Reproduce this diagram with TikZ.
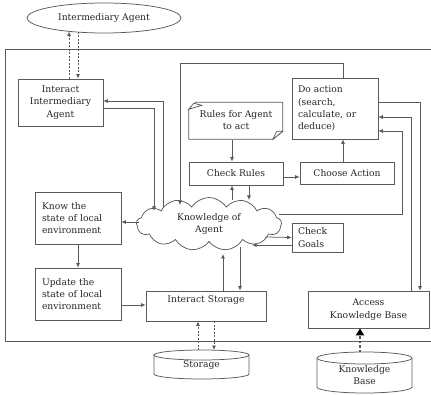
\documentclass[tikz,border=0pt]{standalone}
\usepackage{fontspec}
\setmainfont{DejaVu Serif}
\usetikzlibrary{shapes.geometric,shapes.symbols,arrows.meta}

\definecolor{linec}{HTML}{5A5A5A}
\definecolor{textc}{HTML}{262626}
\newcommand\diagfont{\fontsize{9.2}{12.3}\selectfont}
% centred stack of lines
\newcommand\ctrlines[1]{\begin{tabular}{@{}c@{}}#1\end{tabular}}

\begin{document}
\begin{tikzpicture}[x=1pt,y=-1pt,
  every node/.style={text=textc, font=\diagfont, inner sep=0pt},
  box/.style={draw=linec, line width=0.75pt, rectangle},
  lbox/.style={box, align=left},
  ell/.style={draw=linec, line width=0.75pt, ellipse},
  outline/.style={draw=linec, line width=0.75pt},
  arr/.style={draw=linec, line width=0.75pt, -{Latex[length=4.5pt,width=4pt]}},
  darr/.style={arr, dash pattern=on 2pt off 1.5pt},
  kbarr/.style={draw=linec, line width=2.2pt, dash pattern=on 2.5pt off 2pt,
    -{Triangle[length=7pt,width=8pt,color=black]}}
]
\useasboundingbox (0,0) rectangle (431,395);

% system boundary
\draw[outline] (5,49) rectangle (445,341);

% external agent
\node[ell, minimum width=154, minimum height=30] (IA) at (104,18) {Intermediary Agent};

% process boxes
\node[box, minimum width=85, minimum height=47] (IIA) at (60.5,102.5)
  {\ctrlines{Interact\\Intermediary\\Agent}};
\node[lbox, minimum width=86, minimum height=61, text width=74] (doact) at (335,108.5)
  {Do action\\(search,\\calculate, or\\deduce)};
\node[minimum width=94, minimum height=37] (rules) at (236,121)
  {\ctrlines{Rules for Agent\\to act}};
\node[box, minimum width=94, minimum height=23] (checkr) at (236,173.5) {Check Rules};
\node[box, minimum width=94, minimum height=22] (choose) at (347,173.5) {Choose Action};
\node[lbox, minimum width=86, minimum height=52, text width=72] (know) at (78,218)
  {Know the\\state of local\\environment};
\node[lbox, minimum width=86, minimum height=52, text width=72] (update) at (78,294)
  {Update the\\state of local\\environment};
\node[box, minimum width=120, text height=8pt, text depth=16pt, inner ysep=3pt] (is)
  at (206,306) {Interact Storage};
\node[lbox, minimum width=51, minimum height=29, text width=39] (goals) at (317.5,237.5)
  {Check\\Goals};
\node[box, minimum width=121, minimum height=37] (akb) at (368.5,309.5)
  {\ctrlines{Access\\Knowledge Base}};

% knowledge cloud
\node[cloud, draw=linec, line width=0.75pt, cloud puffs=13, cloud puff arc=115,
  cloud ignores aspect, minimum width=145, minimum height=53]
  (cloud) at (209,224) {\ctrlines{Knowledge of\\Agent}};

% note shape with curled corners
\begin{scope}[shift={(rules.north west)}]
  \draw[outline] (0,7) -- (0,37) -- (84,37) -- (94,29) -- (94,0) -- (7,0) -- cycle;
  \draw[outline, fill=white] (0,7) -- (5,1) -- (13,3) -- cycle;
  \draw[outline, fill=white] (84,37) -- (88,29) -- (94,29) -- cycle;
\end{scope}

% storage cylinders
\node[minimum width=95, minimum height=19] (stor) at (201.5,365) {Storage};
\draw[outline] (154,355) -- (154,374) arc[start angle=180, end angle=360,
  x radius=47.5pt, y radius=5pt] -- (249,355);
\draw[outline] (201.5,355) ellipse [x radius=47.5pt, y radius=5pt];
\node[minimum width=95, minimum height=29] (kb) at (364.5,376)
  {\ctrlines{Knowledge\\Base}};
\draw[outline] (317,358) -- (317,387) arc[start angle=180, end angle=360,
  x radius=47.5pt, y radius=6pt] -- (412,358);
\draw[outline] (364.5,358) ellipse [x radius=47.5pt, y radius=6pt];

% links to the intermediary agent
\draw[darr] ([xshift=8.5]IIA.north) -- (69,31.5);
\draw[darr] (78,32) -- ([xshift=17.5]IIA.north);

% cloud and intermediary agent
\draw[arr] (163,207) |- ([yshift=1.5]IIA.east);
\draw[arr] ([yshift=-5.5]IIA.east) -| (154,211);

% action loop
\draw[arr] ([xshift=8]doact.north) |- (180,63) -- (180,205);
\draw[arr] ([xshift=-4]rules.south) -- ([xshift=-4]checkr.north);
\draw[arr] ([yshift=-3.5]checkr.east) -- ([yshift=-3.5]checkr.east -| choose.west);
\draw[arr] ([xshift=-4]choose.north) -- ([xshift=-4]choose.north |- doact.south);
\draw[arr] (232,200) -- ([xshift=-4]checkr.south);
\draw[arr] ([xshift=13]checkr.south) -- (249,200);

% knowledge base links
\draw[arr] ([yshift=6.5]doact.east) -| ([xshift=51.5]akb.north);
\draw[arr] ([xshift=42.5]akb.north) |- ([yshift=-8.5]doact.east);
\draw[arr] (279,214) -| (402,131) -- ([yshift=-22.5]doact.east);

% environment
\draw[arr] (139,222) -- ([yshift=-4]know.east);
\draw[arr] (know.south) -- (update.north);
\draw[arr] ([yshift=-11]update.east) -- ([yshift=-11]update.east -| is.west);

% storage
\draw[arr] ([xshift=17]is.north) -- (223,254);
\draw[arr] (240,247) -- ([xshift=34]is.north);
\draw[darr] (198,350) -- ([xshift=-8]is.south);
\draw[darr] ([xshift=8]is.south) -- (214,350);

% goals
\draw[arr] (265,237) -- (goals.west);
\draw[arr] ([yshift=-7.5]goals.west) -- (252,245);

% knowledge base feed
\draw[kbarr] (360,352) -- ([xshift=-8.5]akb.south);
\end{tikzpicture}
\end{document}
